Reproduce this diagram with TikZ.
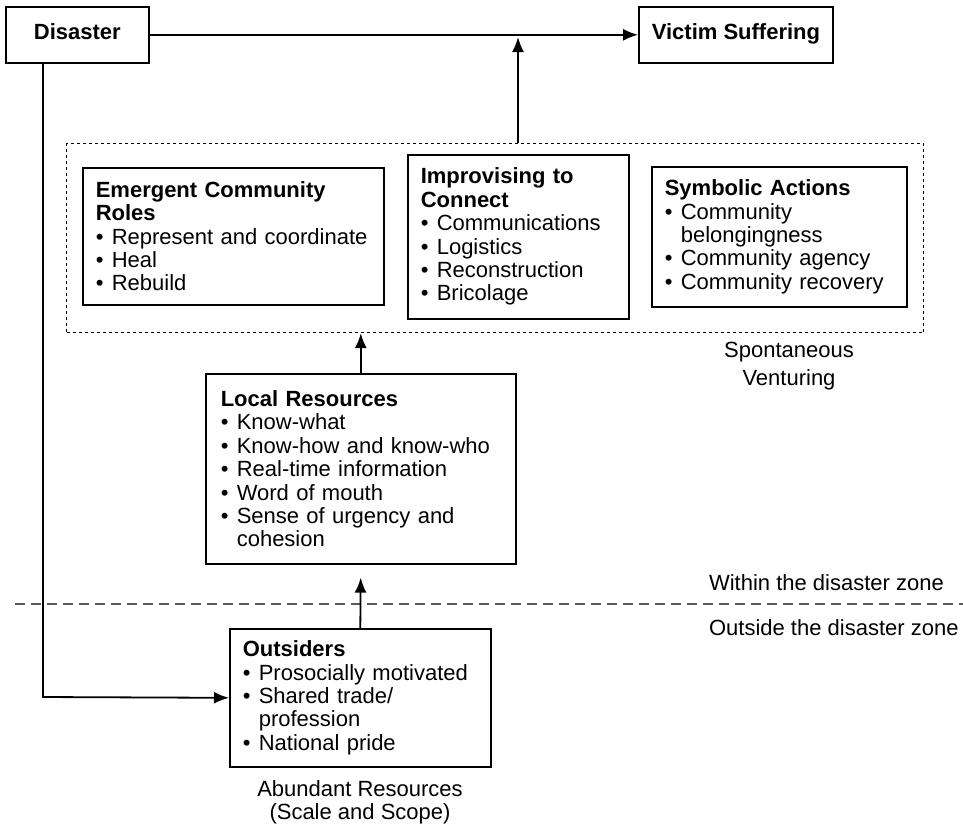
\documentclass[tikz,border=0pt]{standalone}
\usepackage{fontspec}
\setmainfont{Liberation Sans}
\usetikzlibrary{arrows.meta}
\newcommand{\bitem}[1]{\makebox[8pt][l]{\textbullet}#1}
\newcommand{\bcont}[1]{\hspace*{8pt}#1}

\begin{document}
\begin{tikzpicture}[x=0.5pt, y=-0.5pt,
	every node/.style={font=\fontsize{11}{11.7}\selectfont},
	box/.style={draw=black, line width=0.8pt, anchor=north west, align=left, inner xsep=6.5pt, inner ysep=0pt},
	arr/.style={-{Latex[length=7.5pt,width=6pt]}, line width=0.9pt},
	zone/.style={draw=black!65, line width=0.8pt, dash pattern=on 5pt off 3pt}]
	
	\useasboundingbox (0,0) rectangle (963,827);
	
	\node[box, align=center, minimum width=71.5pt, minimum height=28pt] (dis) at (5,6)   {\strut\textbf{Disaster}};
	\node[box, align=center, minimum width=96pt, minimum height=28pt]   (vic) at (638,6) {\strut\textbf{Victim Suffering}};
	
	\node[draw=black, line width=0.6pt, dash pattern=on 1.5pt off 1.5pt, anchor=north west, inner sep=0pt, minimum width=428.5pt, minimum height=94.5pt] (spont) at (66,143) {};
	
	\node[box, text width=137.5pt, minimum height=68.5pt] (roles) at (82,167)
		{\textbf{Emergent Community}\\\textbf{Roles}\\\bitem{Represent and coordinate}\\\bitem{Heal}\\\bitem{Rebuild}};
	\node[box, text width=97.5pt, minimum height=82pt] (conn) at (407,154)
		{\textbf{Improvising to}\\\textbf{Connect}\\\bitem{Communications}\\\bitem{Logistics}\\\bitem{Reconstruction}\\\bitem{Bricolage}};
	\node[box, text width=114.5pt, minimum height=70pt] (symb) at (651,166)
		{\textbf{Symbolic Actions}\\\bitem{Community}\\\bcont{belongingness}\\\bitem{Community agency}\\\bitem{Community recovery}};
	\node[box, inner xsep=7.5pt, text width=140pt, minimum height=95pt] (local) at (205,373)
		{\textbf{Local Resources}\\\bitem{Know-what}\\\bitem{Know-how and know-who}\\\bitem{Real-time information}\\\bitem{Word of mouth}\\\bitem{Sense of urgency and}\\\bcont{cohesion}};
	\node[box, text width=117.5pt, minimum height=69pt] (out) at (229,628)
		{\textbf{Outsiders}\\\bitem{Prosocially motivated}\\\bitem{Shared trade/}\\\bcont{profession}\\\bitem{National pride}};
	
	\node[align=center] (sv) at (789,366) {Spontaneous\\[2pt]Venturing};
	\node[anchor=west] (within) at (702,583) {Within the disaster zone};
	\node[anchor=west] (outside) at (702,628) {Outside the disaster zone};
	\node[align=center] (abund) at (360,802) {Abundant Resources\\(Scale and Scope)};
	
	\coordinate (zl) at (15,604);
	\coordinate (zr) at (963,604);
	\draw[zone] (zl) -- (zr);
	
	\coordinate (meet) at (518,37);
	\coordinate (bend) at (43,697);
	
	\path[arr] (dis) edge (vic);
	\draw[arr] (spont.north -| meet) -- (meet);
	\draw[arr] (local.north) -- (local.north |- spont.south);
	\draw[arr, shorten >=6.5pt] (out.north) -- (local.south);
	\draw[arr] (dis.south -| bend) -- (bend) -- (out.west);
	
\end{tikzpicture}
\end{document}
